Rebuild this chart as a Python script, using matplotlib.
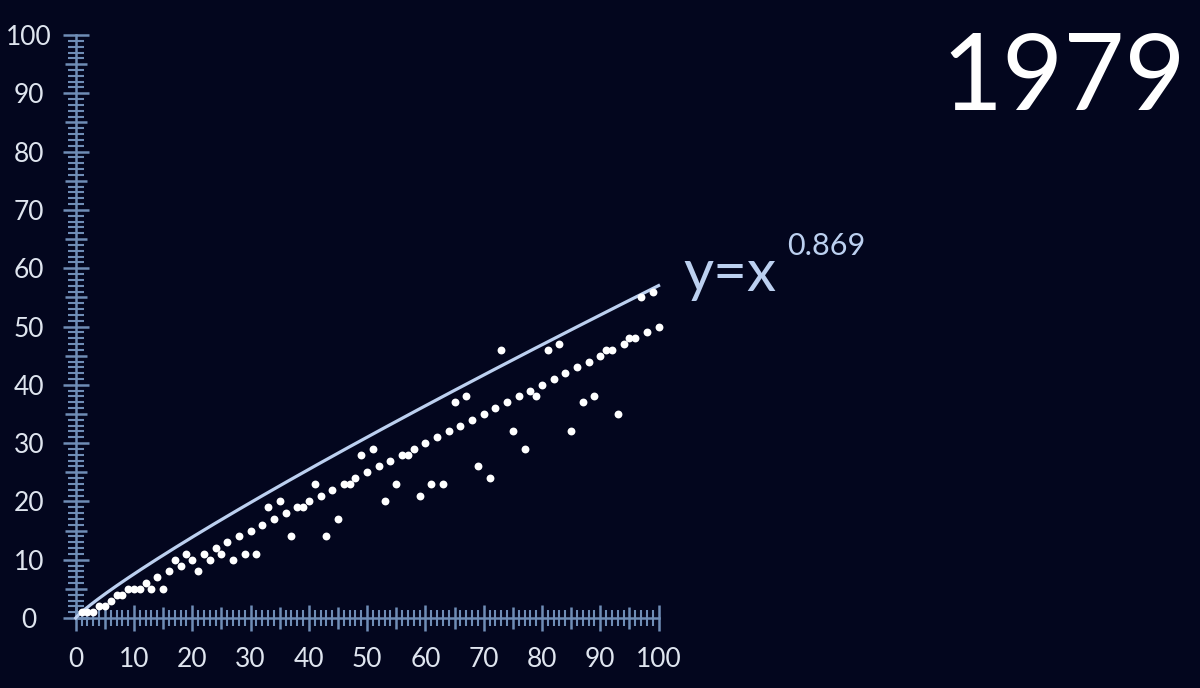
import matplotlib.pyplot as plt
import numpy as np

# data
year = "1979"
xs = list(range(1, 101))
ys = [1, 1, 1, 2, 2, 3, 4, 4, 5, 5,
      5, 6, 5, 7, 5, 8, 10, 9, 11, 10,
      8, 11, 10, 12, 11, 13, 10, 14, 11, 15,
      11, 16, 19, 17, 20, 18, 14, 19, 19, 20,
      23, 21, 14, 22, 17, 23, 23, 24, 28, 25,
      29, 26, 20, 27, 23, 28, 28, 29, 21, 30,
      23, 31, 23, 32, 37, 33, 38, 34, 26, 35,
      24, 36, 46, 37, 32, 38, 29, 39, 38, 40,
      46, 41, 47, 42, 32, 43, 37, 44, 38, 45,
      46, 46, 35, 47, 48, 48, 55, 49, 56, 50]
label_exp = "0.869"
drawn_exp = 0.878   # the drawn curve sits a bit above x**0.869

bg = "#03061e"
axis_col = "#6f8db6"
text_col = "#dfe5ef"
curve_col = "#bcd0f0"

plt.rcParams['font.family'] = ['Lato', 'DejaVu Sans']

fig = plt.figure(figsize=(12, 6.88), dpi=100, facecolor=bg)
ax = fig.add_axes([0.0631, 0.1017, 0.4857, 0.8474])
ax.set_facecolor(bg)

# fitted curve
cx = np.linspace(0, 100, 400)
ax.plot(cx, cx ** drawn_exp, color=curve_col, lw=2.3, clip_on=False, zorder=2)

# points
ax.scatter(xs, ys, s=32, color="white", zorder=3, clip_on=False, linewidths=0)

ax.set_xlim(0, 100)
ax.set_ylim(0, 100)

for s in ["top", "right"]:
    ax.spines[s].set_visible(False)
for s in ["left", "bottom"]:
    ax.spines[s].set_color(axis_col)
    ax.spines[s].set_linewidth(1.8)
    ax.spines[s].set_zorder(1)

ticks5 = list(range(0, 101, 5))
labels = [str(t) if t % 10 == 0 else "" for t in ticks5]
ax.set_xticks(ticks5, labels)
ax.set_yticks(ticks5, labels)
ax.set_xticks(range(0, 101), minor=True)
ax.set_yticks(range(0, 101), minor=True)

ax.tick_params(which="major", direction="inout", length=19, width=1.8,
               color=axis_col, labelcolor=text_col, labelsize=19)
ax.tick_params(which="minor", direction="inout", length=11, width=1.5,
               color=axis_col)
ax.tick_params(axis="x", which="major", pad=11)
ax.tick_params(axis="y", which="major", pad=24)

# shorter ticks at the odd multiples of 5
for axis in (ax.xaxis, ax.yaxis):
    for t, tick in zip(ticks5, axis.get_major_ticks()):
        if t % 10 != 0:
            tick.tick1line.set_markersize(16)

plt.setp(ax.get_yticklabels(), ha="center")

# formula label
ax.text(104.3, 59, "y=x", color=curve_col, fontsize=42, ha="left",
        va="center", clip_on=False)
ax.text(122.0, 62.3, label_exp, color=curve_col, fontsize=22, ha="left",
        va="baseline", clip_on=False)

fig.text(0.988, 0.84, year, color="white", fontsize=76, ha="right",
         va="baseline")

fig.savefig("out.png", facecolor=bg)
